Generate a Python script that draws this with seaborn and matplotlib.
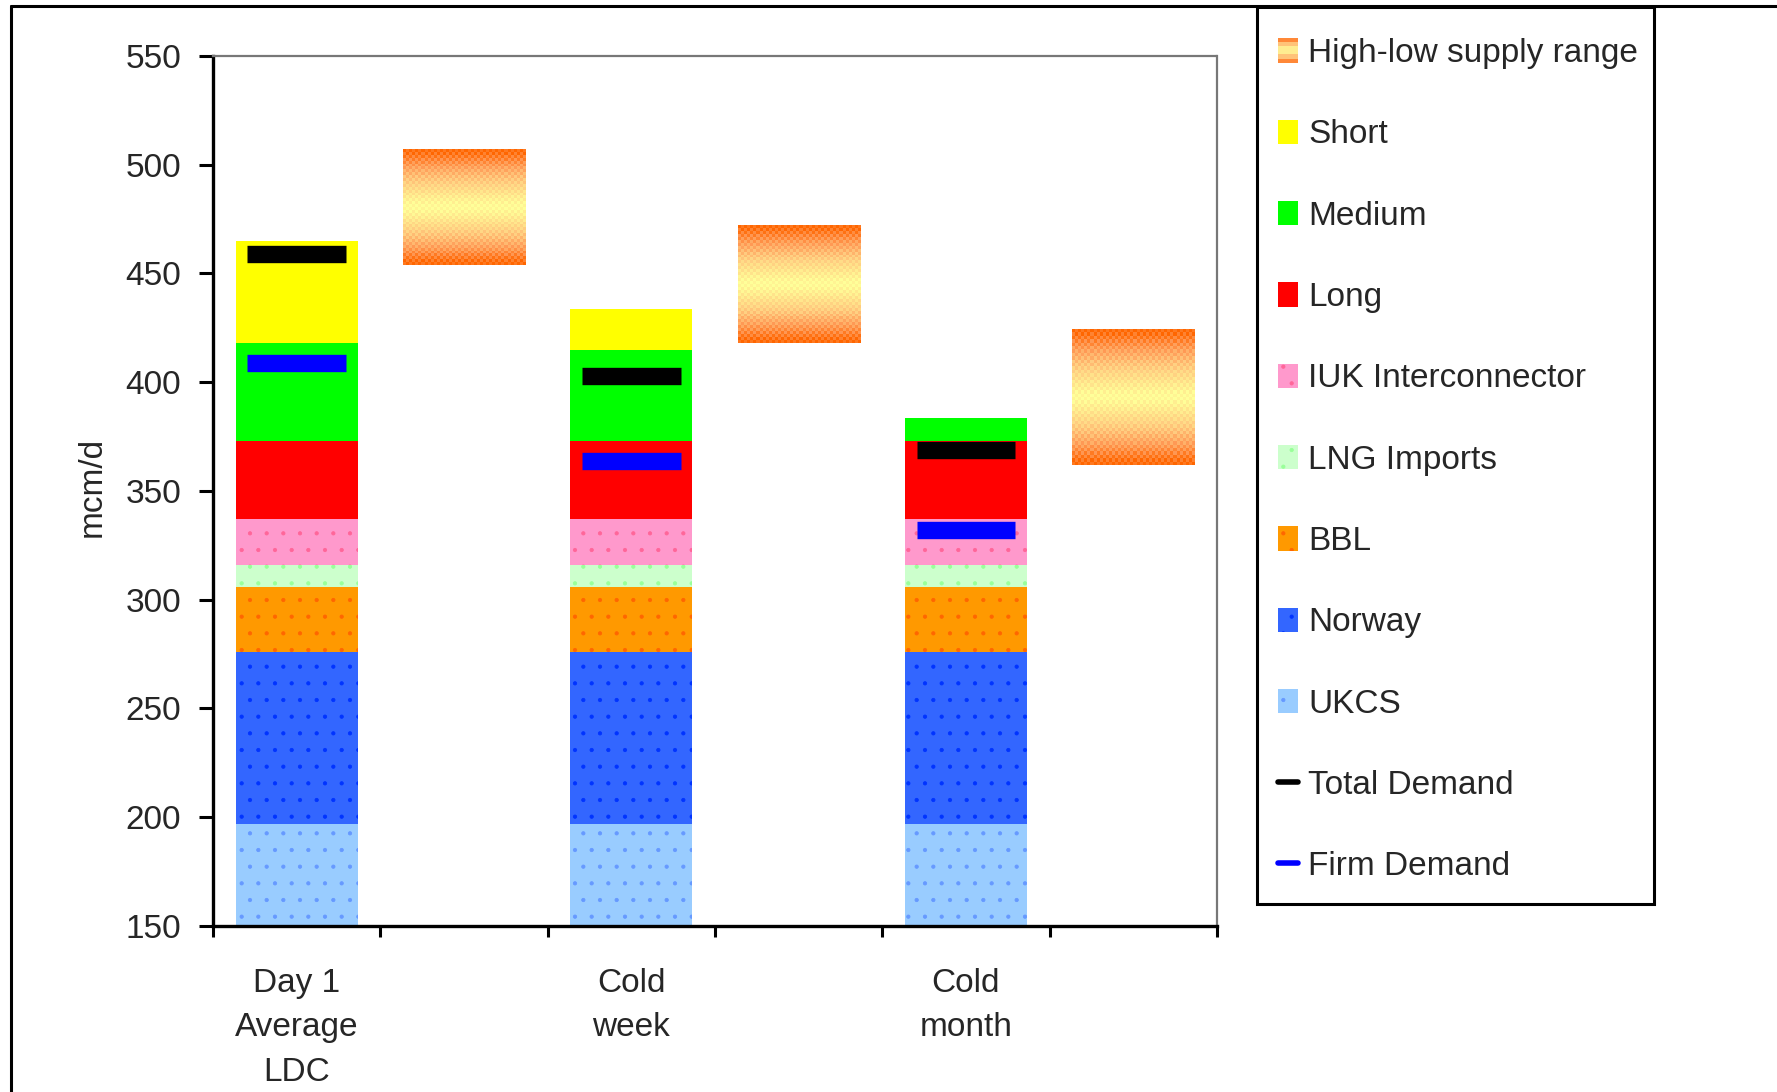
import numpy as np
import pandas as pd
import matplotlib
matplotlib.use("Agg")
import matplotlib.pyplot as plt
import seaborn as sns
from matplotlib.patches import Patch, Rectangle
from matplotlib.lines import Line2D
from matplotlib.legend_handler import HandlerBase
from matplotlib.colors import LinearSegmentedColormap

# ---- data (mcm/d) ----
cases = ["Day 1\nAverage\nLDC", "Cold\nweek", "Cold\nmonth"]
ukcs = [197, 197, 197]
norway = [79, 79, 79]
bbl = [30, 30, 30]
lng_imports = [10, 10, 10]
iuk = [21, 21, 21]
long_term = [36, 36, 36]
medium_term = [45, 42, 10.5]
short_term = [47, 18.5, 0]
total_demand = [459, 403, 369]
firm_demand = [409, 364, 332]
supply_low = [454, 418, 362]
supply_high = [507, 472, 424.5]

# ---- styling ----
sns.set_style("ticks")
plt.rcParams["font.family"] = ["Liberation Sans", "DejaVu Sans"]
plt.rcParams["hatch.linewidth"] = 0.6

FS = 24
W, H = 1777, 1092
slots = [cases[0], "supply_a", cases[1], "supply_b", cases[2], "supply_c"]
bar_pos = [0, 2, 4]
range_pos = [1, 3, 5]
BAR_W = 0.73

# stacking components from bottom to top: (label, values, face, hatch, dot colour)
components = [
    ("UKCS", ukcs, "#99CCFF", ".", "#6699FF"),
    ("Norway", norway, "#3366FF", ".", "#0033FF"),
    ("BBL", bbl, "#FF9900", ".", "#FF6600"),
    ("LNG Imports", lng_imports, "#CCFFCC", ".", "#99FF99"),
    ("IUK Interconnector", iuk, "#FF99CC", ".", "#FF6699"),
    ("Long", long_term, "#FF0000", None, "#FF0000"),
    ("Medium", medium_term, "#00FF00", None, "#00FF00"),
    ("Short", short_term, "#FFFF00", None, "#FFFF00"),
]

df = pd.DataFrame({"case": cases})
running = np.zeros(len(cases))
for name, vals, *_ in components:
    running = running + np.asarray(vals, dtype=float)
    df[name] = running

supply_cmap = LinearSegmentedColormap.from_list(
    "supply", [(0.0, "#FFFF99"), (0.45, "#FFCC80"), (0.75, "#FF9955"), (1.0, "#FF6600")]
)

fig = plt.figure(figsize=(W / 100, H / 100), dpi=100)
ax = fig.add_axes([213 / W, 1 - 926 / H, 1004 / W, 870 / H])

# stacked bars: draw cumulative totals from the top layer down
for name, vals, face, hatch, dot in reversed(components):
    kw = dict(data=df, x="case", y=name, order=slots, color=face, saturation=1,
              width=BAR_W, errorbar=None, ax=ax, linewidth=0, zorder=2)
    if hatch:
        kw.update(hatch=hatch, edgecolor=dot)
    sns.barplot(**kw)

# high-low supply range boxes with a dithered gradient
def range_image(rows=40, cols=40):
    t = (np.arange(rows) + 0.5) / rows
    f = np.abs(2 * t - 1)
    F = np.repeat(f[:, None], cols, axis=1)
    checker = ((np.arange(rows)[:, None] + np.arange(cols)[None, :]) % 2) - 0.5
    F = np.clip(F + 0.14 * checker, 0, 1)
    return supply_cmap(F)

for xp, lo, hi in zip(range_pos, supply_low, supply_high):
    ax.imshow(range_image(), extent=[xp - BAR_W / 2, xp + BAR_W / 2, lo, hi],
              origin="lower", aspect="auto", interpolation="nearest", zorder=2)

# demand markers
MW = 0.295
ax.hlines(total_demand, np.array(bar_pos) - MW, np.array(bar_pos) + MW,
          colors="black", linewidth=12.5, capstyle="butt", zorder=4)
ax.hlines(firm_demand, np.array(bar_pos) - MW, np.array(bar_pos) + MW,
          colors="#0000FF", linewidth=12.5, capstyle="butt", zorder=4)

ax.set_xlim(-0.5, 5.5)
ax.set_ylim(150, 550)
ax.set_yticks(np.arange(150, 551, 50))
ax.set_xticks(np.arange(-0.5, 5.6, 1.0))
ax.set_xticklabels([])
ax.set_xticks(bar_pos, minor=True)
ax.set_xticklabels(cases, minor=True, fontsize=FS)
for lbl in ax.get_xticklabels(minor=True):
    lbl.set_linespacing(1.56)
ax.tick_params(axis="x", which="minor", length=0, pad=30)
ax.tick_params(axis="x", which="major", length=8, width=2.2, color="black")
ax.tick_params(axis="y", length=10, width=2.2, pad=13, labelsize=FS, color="black")
ax.set_xlabel("")
ax.set_ylabel("mcm/d", fontsize=FS)
ax.yaxis.set_label_coords((108 - 213) / 1004, (926 - 487) / 870)

for side in ("left", "bottom"):
    ax.spines[side].set_linewidth(2.4)
    ax.spines[side].set_color("black")
for side in ("top", "right"):
    ax.spines[side].set_visible(True)
    ax.spines[side].set_linewidth(1.6)
    ax.spines[side].set_color("#777777")
    ax.spines[side].set_linestyle((0, (1.5, 1)))
ax.set_facecolor("white")

# legend
class GradientHandler(HandlerBase):
    def create_artists(self, legend, orig_handle, xdescent, ydescent, width, height,
                       fontsize, trans):
        n = 6
        arts = []
        for k in range(n):
            f = abs((k + 0.5) / n * 2 - 1)
            arts.append(Rectangle((-xdescent, -ydescent + k * height / n), width, height / n,
                                  facecolor=supply_cmap(f), edgecolor="none", transform=trans))
        return arts

range_handle = Patch(facecolor="#FFCC80", label="High-low supply range")
handles = [range_handle]
for name, vals, face, hatch, dot in reversed(components):
    if hatch:
        handles.append(Patch(facecolor=face, hatch=hatch, edgecolor=dot, linewidth=0, label=name))
    else:
        handles.append(Patch(facecolor=face, linewidth=0, label=name))
handles.append(Line2D([], [], color="black", linewidth=4, label="Total Demand"))
handles.append(Line2D([], [], color="#0000FF", linewidth=4, label="Firm Demand"))

fig.legend(handles=handles, loc="upper left",
           bbox_to_anchor=(1278 / W, 1 - 38 / H),
           bbox_transform=fig.transFigure, borderaxespad=0,
           fontsize=FS, frameon=False,
           handlelength=0.6, handleheight=0.75, handletextpad=0.3,
           labelspacing=1.51, borderpad=0,
           handler_map={range_handle: GradientHandler()})

# legend box
fig.add_artist(Rectangle((1257 / W, 1 - 904 / H), (1654 - 1257) / W, (904 - 7) / H,
                         transform=fig.transFigure, fill=False,
                         edgecolor="black", linewidth=2.2))

# outer frame (left and top edges)
fx = 11 / W
fy = 1 - 6 / H
fig.add_artist(Line2D([fx, fx], [0, fy], transform=fig.transFigure, color="black", linewidth=2.2))
fig.add_artist(Line2D([fx, 1], [fy, fy], transform=fig.transFigure, color="black", linewidth=2.2))

fig.savefig("out.png", dpi=100, facecolor="white")
